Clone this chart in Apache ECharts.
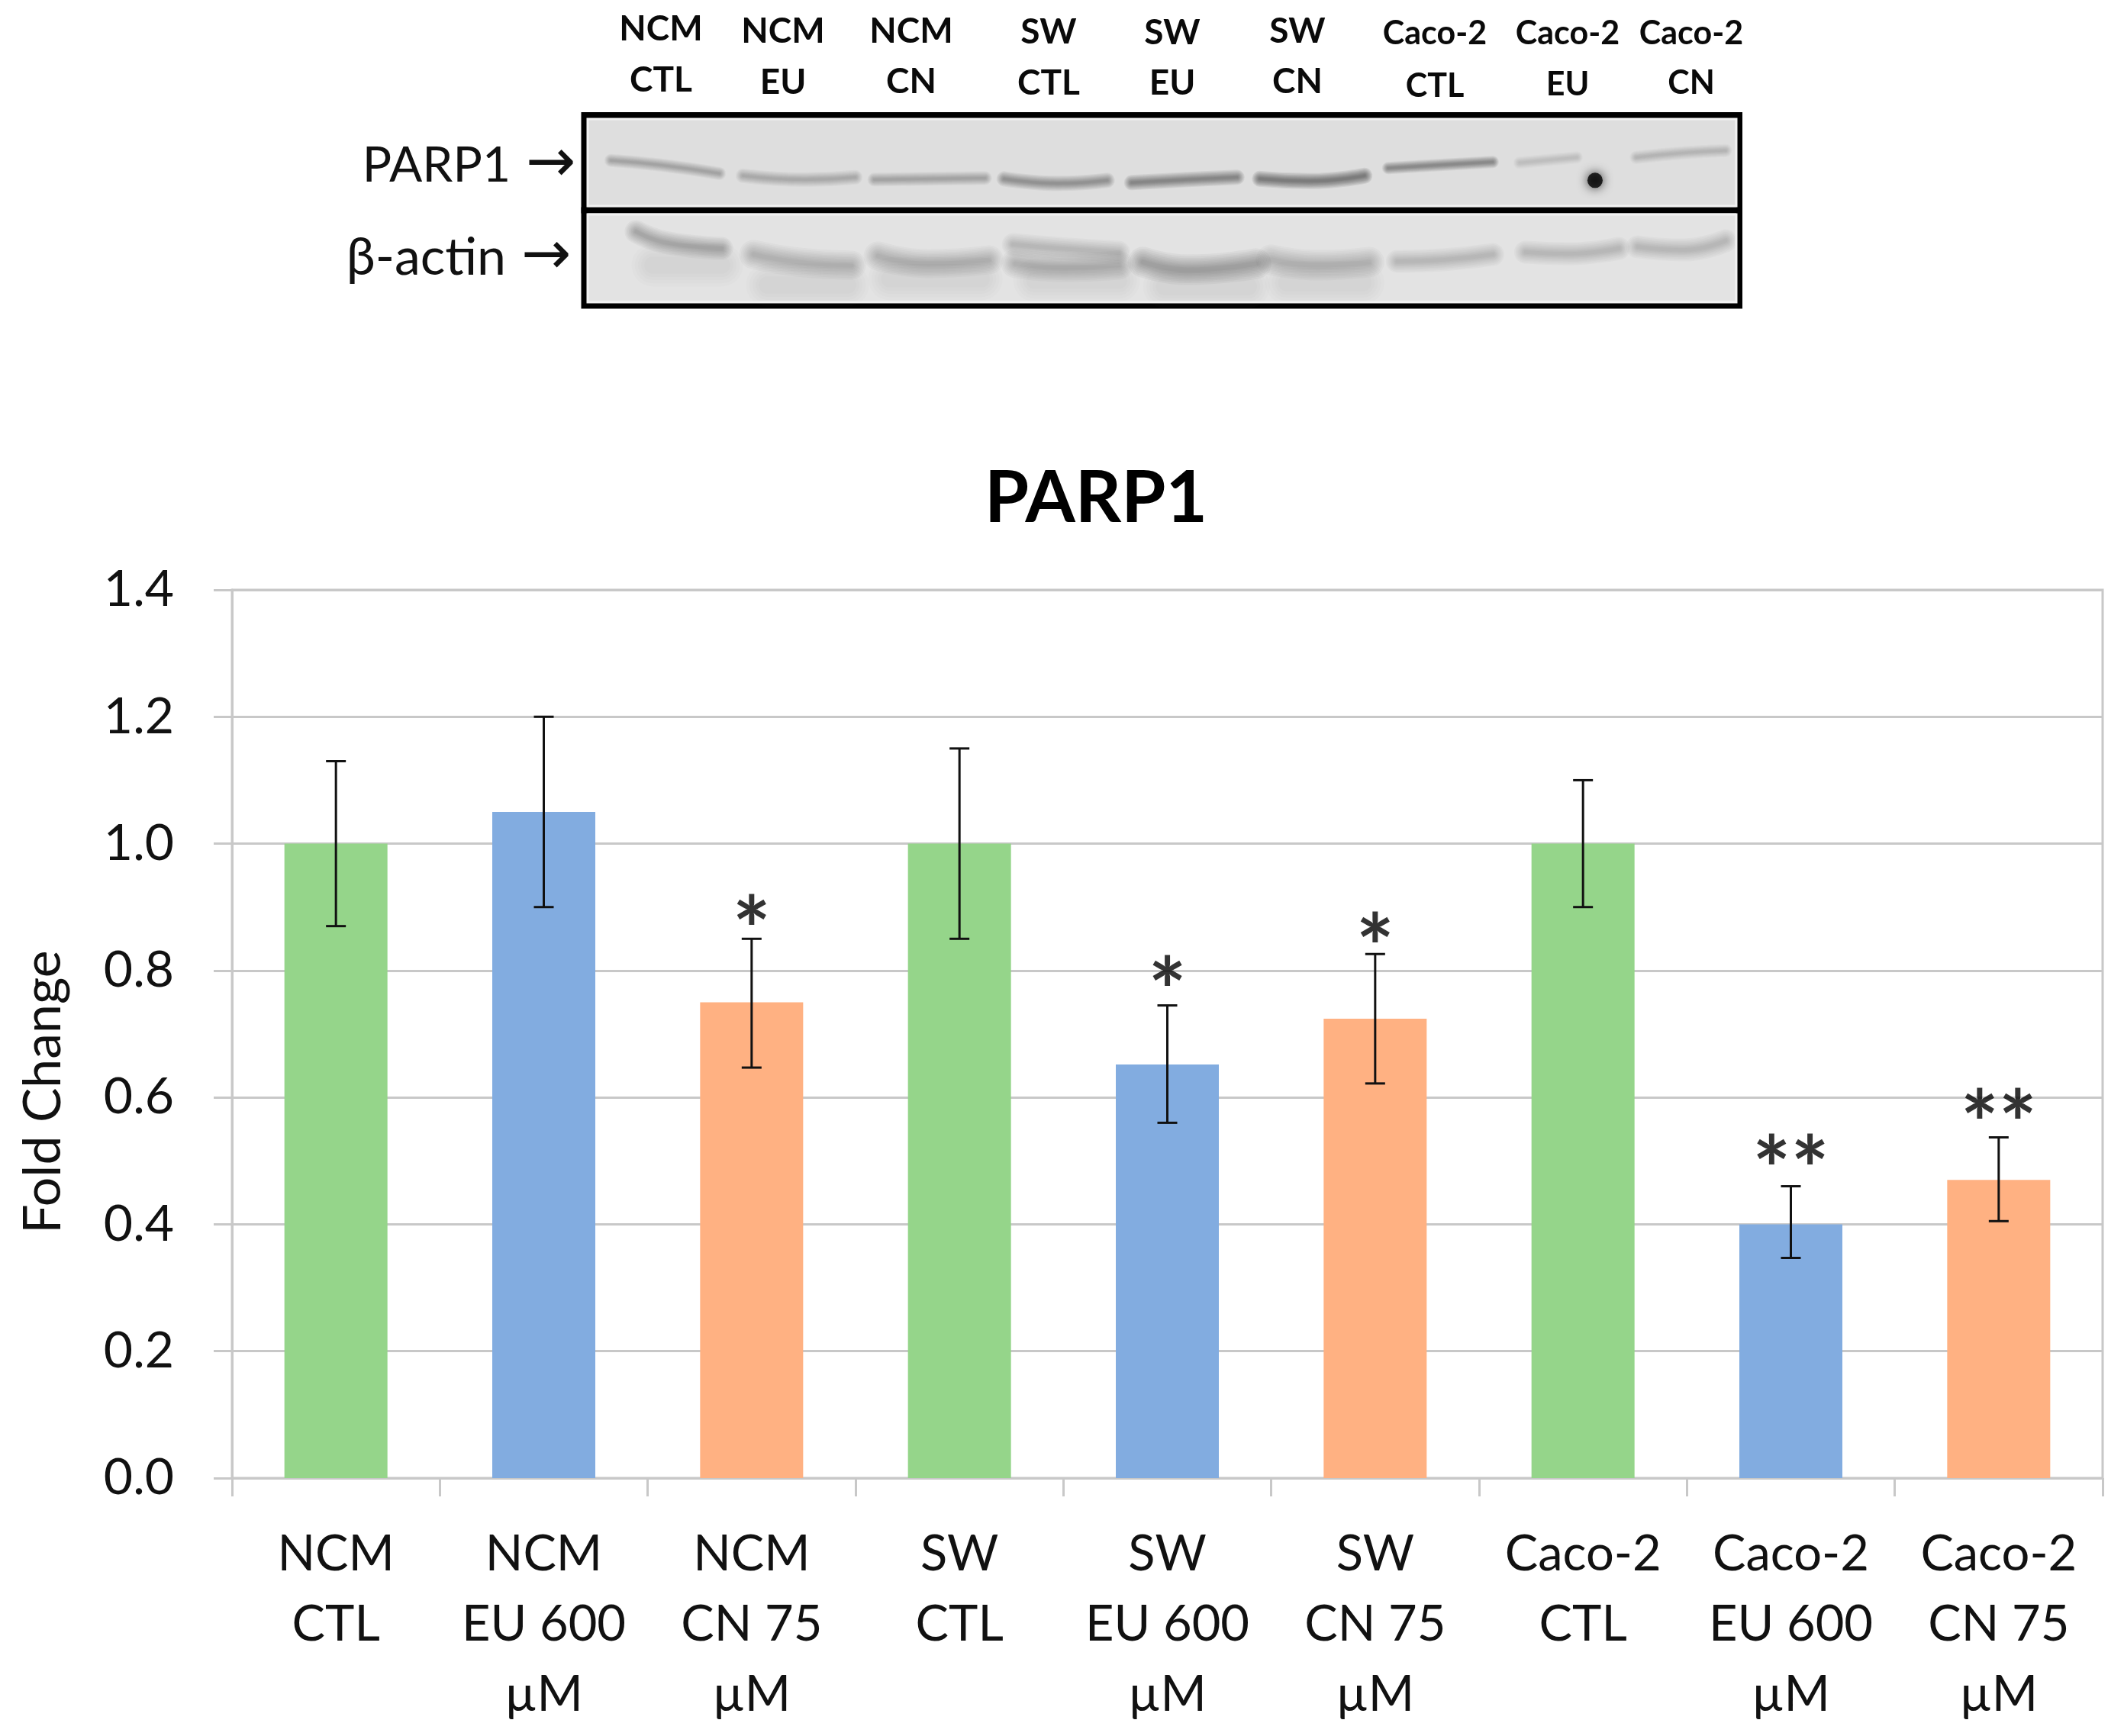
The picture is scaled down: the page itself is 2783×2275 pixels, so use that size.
<!DOCTYPE html>
<html><head><meta charset="utf-8">
<style>html,body{margin:0;padding:0;background:#fff}#c{width:2783px;height:2275px}</style>
<script src="https://cdn.jsdelivr.net/npm/echarts@6/dist/echarts.min.js"></script>
</head><body><div id="c"></div>
<script>
// ---- chart data ----
const categories = ['NCM\nCTL','NCM\nEU 600\nµM','NCM\nCN 75\nµM','SW\nCTL','SW\nEU 600\nµM','SW\nCN 75\nµM','Caco-2\nCTL','Caco-2\nEU 600\nµM','Caco-2\nCN 75\nµM'];
const foldChange = [1.0,1.05,0.75,1.0,0.652,0.724,1.0,0.40,0.47];
const errHigh = [1.13,1.20,0.85,1.15,0.745,0.826,1.10,0.46,0.537];
const errLow  = [0.87,0.90,0.647,0.85,0.56,0.622,0.90,0.347,0.405];
const starMarks = ['','','*','','*','*','','**','**'];
const starValues = [null,null,0.892,null,0.796,0.865,null,0.515,0.587];
const barColors = ['#95D58A','#82ACE0','#FFB182'];
const yTicks = {min:0,max:1.4,interval:0.2};

// ---- blot lane labels ----
const laneTop = ['NCM','NCM','NCM','SW','SW','SW','Caco-2','Caco-2','Caco-2'];
const laneBottom = ['CTL','EU','CN','CTL','EU','CN','CTL','EU','CN'];
const laneX = [866,1026,1194,1374,1536,1700,1880,2054,2216];
const laneTopY = [38,41,41,42,43,41,44,44,44];
const laneBottomY = [105,108,107,109,109,107,113,111,109];

const parpBands = [
  [[35,59],[100,65],[177,76]],
  [[208,79],[290,84],[355,81]],
  [[380,84],[450,83],[525,82]],
  [[550,83],[620,89],[685,85]],
  [[717,88],[790,84],[855,81]],
  [[885,83],[950,86],[1022,79]],
  [[1053,69],[1120,65],[1190,61]],
  [[1225,62],[1300,55]],
  [[1378,55],[1440,49],[1495,46]]
];
const parpDark = [0.55,0.5,0.55,0.85,1.0,1.2,0.95,0.22,0.38];
const parpWidth = [17,19,18,20,20,21,16,16,17];
const actinBands = [
  [[68,28],[105,42],[180,50]],
  [[222,58],[280,68],[350,72]],
  [[385,60],[450,70],[530,65]],
  [[562,45],[620,50],[700,55]],
  [[565,70],[630,75],[700,72]],
  [[732,68],[790,78],[880,70]],
  [[900,65],[960,72],[1028,68]],
  [[1065,67],[1125,65],[1190,58]],
  [[1233,55],[1290,57],[1355,50]],
  [[1380,48],[1440,52],[1495,40]]
];
const actinDark = [0.55,0.42,0.4,0.38,0.4,0.58,0.46,0.36,0.36,0.36];
const actinWidth = [30,38,38,30,38,40,40,30,30,30];
const actinSmear = [
  [[90,72],[180,72]],
  [[240,98],[345,98]],
  [[400,90],[520,90]],
  [[590,92],[700,92]],
  [[760,100],[870,100]],
  [[920,95],[1020,95]]
];
const blotSpot = [[1324,85]];

const FONT = 'Lato';
const GREY = '#C8C8C8';
const BLUR_STEPS = [1.0,0.88,0.76,0.65,0.54,0.44,0.34,0.24,0.15];

function bandSeries(list, dark, width, xi) {
  const out = [];
  list.forEach((pts, i) => {
    BLUR_STEPS.forEach(w => {
      out.push({
        type:'line', xAxisIndex:xi, yAxisIndex:xi, data:pts, smooth:true, symbol:'none', silent:true, z:3,
        lineStyle:{width:width[i]*w, cap:'round', color:'#444', opacity:0.085*dark[i]}
      });
    });
  });
  return out;
}
function smearSeries(list) {
  const out = [];
  list.forEach(pts => {
    [1.0,0.85,0.7,0.55,0.4].forEach(w => {
      out.push({type:'line',xAxisIndex:2,yAxisIndex:2,data:pts,symbol:'none',silent:true,z:2,
        lineStyle:{width:56*w,cap:'round',color:'#888',opacity:0.022}});
    });
  });
  return out;
}

const blotText = [];
laneX.forEach((x,i) => {
  const size = i < 6 ? 46 : 43;
  blotText.push({type:'text', x:x, y:laneTopY[i], style:{text:laneTop[i], font:'bold '+size+'px '+FONT, fill:'#0a0a0a', textAlign:'center', textVerticalAlign:'middle'}});
  blotText.push({type:'text', x:x, y:laneBottomY[i], style:{text:laneBottom[i], font:'bold '+size+'px '+FONT, fill:'#0a0a0a', textAlign:'center', textVerticalAlign:'middle'}});
});
const sideText = [
  {type:'text', x:669, y:217, style:{text:'PARP1', font:'64px '+FONT, fill:'#111', textAlign:'right', textVerticalAlign:'middle'}},
  {type:'text', x:663, y:338, style:{text:'β-actin', font:'68px '+FONT, fill:'#111', textAlign:'right', textVerticalAlign:'middle'}},
  {type:'text', x:722, y:217, style:{text:'→', font:'78px "DejaVu Sans"', fill:'#111', textAlign:'center', textVerticalAlign:'middle'}},
  {type:'text', x:716, y:338, style:{text:'→', font:'78px "DejaVu Sans"', fill:'#111', textAlign:'center', textVerticalAlign:'middle'}},
  {type:'text', x:57, y:1431, rotation:Math.PI/2, style:{text:'Fold Change', font:'68px '+FONT, fill:'#111', textAlign:'center', textVerticalAlign:'middle'}},
  {type:'rect', shape:{x:770,y:156,width:1505,height:114}, style:{fill:'none',stroke:'#f2f2f2',lineWidth:3}, z:10},
  {type:'rect', shape:{x:770,y:281,width:1505,height:115}, style:{fill:'none',stroke:'#f2f2f2',lineWidth:3}, z:10}
];

const chart = echarts.init(document.getElementById('c'), null, {renderer:'canvas', width:2783, height:2275});
chart.setOption({
  animation:false,
  backgroundColor:'#fff',
  title:{text:'PARP1', left:1431, top:602, textAlign:'center', textStyle:{fontFamily:FONT, fontWeight:'bold', fontSize:94, color:'#000'}},
  graphic:{elements:blotText.concat(sideText)},
  grid:[
    {left:304, top:773, right:28, bottom:338, outerBoundsMode:'none', show:true, borderColor:GREY, borderWidth:3, backgroundColor:'transparent'},
    {left:765.5, top:151, width:1513.5, height:124.5, outerBoundsMode:'none', show:true, borderColor:'#000', borderWidth:8, backgroundColor:'#DEDEDE'},
    {left:765.5, top:275.5, width:1513.5, height:125, outerBoundsMode:'none', show:true, borderColor:'#000', borderWidth:8, backgroundColor:'#E3E3E3'}
  ],
  xAxis:[
    {type:'category', data:categories, gridIndex:0,
     axisLine:{lineStyle:{color:GREY,width:3}}, axisTick:{show:true,length:24,lineStyle:{color:GREY,width:3}},
     axisLabel:{margin:54, fontFamily:FONT, fontSize:65, lineHeight:92, color:'#111', interval:0, verticalAlign:'top'}},
    {type:'value', gridIndex:1, min:0, max:1513, show:false},
    {type:'value', gridIndex:2, min:0, max:1513, show:false}
  ],
  yAxis:[
    {type:'value', gridIndex:0, min:yTicks.min, max:yTicks.max, interval:yTicks.interval,
     axisLine:{show:true,lineStyle:{color:GREY,width:3}}, axisTick:{show:true,length:24,lineStyle:{color:GREY,width:3}},
     splitLine:{show:true,lineStyle:{color:GREY,width:3}},
     axisLabel:{margin:76, fontFamily:FONT, fontSize:66, color:'#111', formatter:v=>v.toFixed(1)}},
    {type:'value', gridIndex:1, min:0, max:124, inverse:true, show:false},
    {type:'value', gridIndex:2, min:0, max:125, inverse:true, show:false}
  ],
  series:[
    {type:'bar', xAxisIndex:0, yAxisIndex:0, barWidth:135, z:2,
     data:foldChange.map((v,i)=>({value:v,itemStyle:{color:barColors[i%3]}}))},
    {type:'custom', xAxisIndex:0, yAxisIndex:0, z:4,
     encode:{x:0,y:[1,2]},
     data:categories.map((c,i)=>[i,errLow[i],errHigh[i]]),
     renderItem:function(params,api){
       const lo=api.coord([api.value(0),api.value(1)]), hi=api.coord([api.value(0),api.value(2)]);
       const cap=13, st={stroke:'#111',lineWidth:3};
       return {type:'group',children:[
         {type:'line',shape:{x1:hi[0],y1:hi[1],x2:lo[0],y2:lo[1]},style:st},
         {type:'line',shape:{x1:hi[0]-cap,y1:hi[1],x2:hi[0]+cap,y2:hi[1]},style:st},
         {type:'line',shape:{x1:lo[0]-cap,y1:lo[1],x2:lo[0]+cap,y2:lo[1]},style:st}
       ]};
     }},
    {type:'scatter', xAxisIndex:0, yAxisIndex:0, z:5, symbolSize:1, itemStyle:{color:'transparent'},
     data:categories.map((c,i)=>[i,starValues[i]]).filter(d=>d[1]!==null),
     label:{show:true, position:'inside', offset:[0,29], fontFamily:FONT, fontWeight:'bold', fontSize:118, color:'#000', textBorderWidth:0,
       formatter:p=>starMarks[p.data[0]]}},
    ...smearSeries(actinSmear),
    ...bandSeries(parpBands,parpDark,parpWidth,1),
    ...bandSeries(actinBands,actinDark,actinWidth,2),
    {type:'scatter', xAxisIndex:1, yAxisIndex:1, z:6, data:blotSpot, symbolSize:20,
     itemStyle:{color:'#000',shadowBlur:14,shadowColor:'#000'}}
  ]
});
</script></body></html>
